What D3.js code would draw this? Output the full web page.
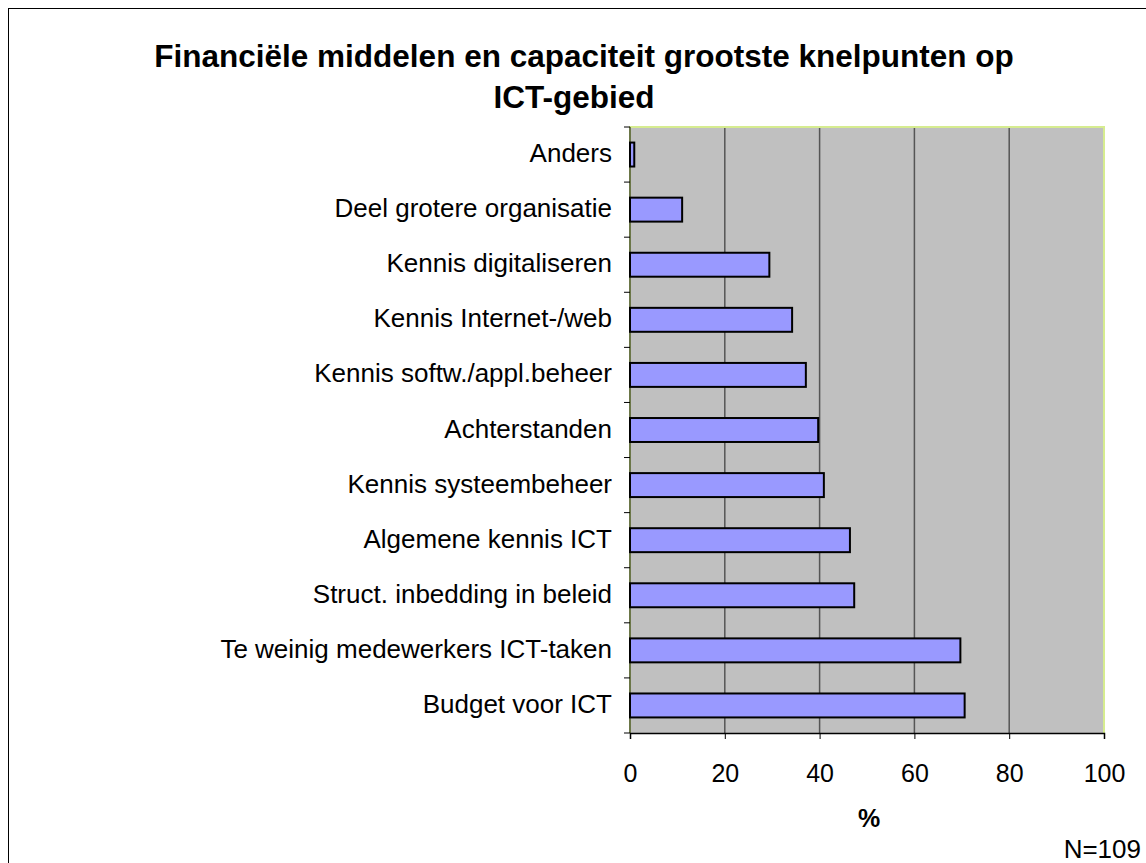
<!DOCTYPE html>
<html><head><meta charset="utf-8">
<script src="https://cdn.jsdelivr.net/npm/d3@7"></script>
<style>body{margin:0;background:#fff}svg{display:block}text{font-family:"Liberation Sans",Arial,sans-serif}</style>
</head><body>
<script>
const categories = ["Anders","Deel grotere organisatie","Kennis digitaliseren","Kennis Internet-/web","Kennis softw./appl.beheer","Achterstanden","Kennis systeembeheer","Algemene kennis ICT","Struct. inbedding in beleid","Te weinig medewerkers ICT-taken","Budget voor ICT"];
const values = [0.9, 11.0, 29.4, 34.2, 37.1, 39.7, 40.9, 46.4, 47.3, 69.7, 70.6];
const xTicks = [0,20,40,60,80,100];
const titleLines = ["Financiële middelen en capaciteit grootste knelpunten op","ICT-gebied"];
const xTitle = "%";
const note = "N=109";

const W=1146,H=863;
const svg=d3.select("body").append("svg").attr("width",W).attr("height",H);
svg.append("rect").attr("x",8.5).attr("y",8.5).attr("width",W).attr("height",H).attr("fill","#fff").attr("stroke","#000").attr("stroke-width",1);

const L=630,R=1104,T=127,B=733;
const x=d3.scaleLinear().domain([0,100]).range([L,R]);
const y=d3.scaleBand().domain(categories).range([T,B]).padding(0);

svg.append("rect").attr("x",L).attr("y",T).attr("width",R-L).attr("height",B-T).attr("fill","#c0c0c0");
// gridlines
svg.append("g").selectAll("line").data(xTicks.filter(d=>d>0&&d<100)).join("line")
 .attr("x1",d=>x(d)).attr("x2",d=>x(d)).attr("y1",T).attr("y2",B).attr("stroke","#555").attr("stroke-width",1.5);
// border top/right/left
svg.append("path").attr("d",`M${L},${B}V${T}H${R}V${B}`).attr("fill","none").attr("stroke","#d6ec90").attr("stroke-width",2);

// bars
const bh=y.bandwidth()/2.3;
svg.append("g").selectAll("rect").data(categories).join("rect")
 .attr("x",L).attr("y",(d)=>y(d)+y.bandwidth()/2-bh/2).attr("width",(d,i)=>x(values[i])-L).attr("height",bh)
 .attr("fill","#9999ff").attr("stroke","#000").attr("stroke-width",2);

// y axis
const ya=svg.append("g").attr("transform",`translate(${L},0)`);
ya.append("line").attr("x1",0).attr("x2",0).attr("y1",T).attr("y2",B).attr("stroke","#000").attr("stroke-width",1);
const bounds=categories.map(c=>y(c)).concat([B]);
ya.selectAll("line.t").data(bounds).join("line").attr("class","t").attr("x1",-6).attr("x2",0).attr("y1",d=>d).attr("y2",d=>d).attr("stroke","#000");
ya.selectAll("text").data(categories).join("text").attr("x",-18).attr("y",d=>y(d)+y.bandwidth()/2+7.5)
 .attr("text-anchor","end").attr("font-size",26).text(d=>d);

// x axis
const xa=svg.append("g").attr("transform",`translate(0,${B})`).call(d3.axisBottom(x).tickValues(xTicks).tickSize(6).tickPadding(25));
xa.select(".domain").attr("stroke","#000").attr("stroke-width",1.5);
xa.selectAll(".tick line").attr("stroke","#000");
xa.selectAll("text").attr("font-size",25).attr("fill","#000").style("font-family","Liberation Sans, Arial, sans-serif");

svg.append("text").attr("x",869).attr("y",827).attr("text-anchor","middle").attr("font-size",25).attr("font-weight","bold").text(xTitle);
svg.append("text").attr("x",1141).attr("y",858).attr("text-anchor","end").attr("font-size",26).text(note);

svg.append("g").selectAll("text").data(titleLines).join("text").attr("x",(d,i)=>i?574:584).attr("y",(d,i)=>67+i*41)
 .attr("text-anchor","middle").attr("font-size",31.5).attr("font-weight","bold").text(d=>d);
</script>
</body></html>
